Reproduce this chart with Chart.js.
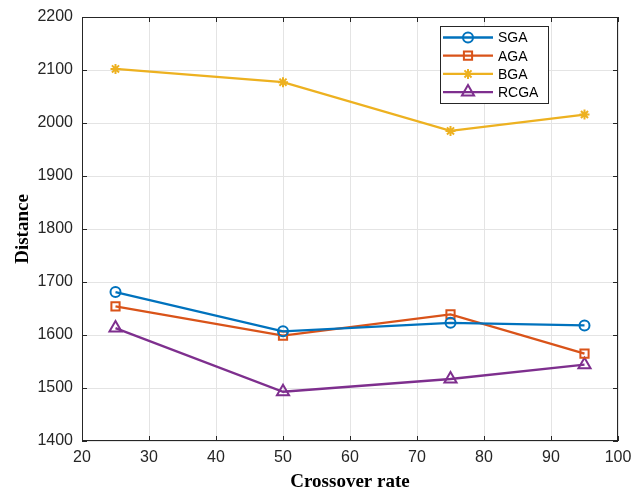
<!DOCTYPE html>
<html>
<head>
<meta charset="utf-8">
<script src="https://cdn.jsdelivr.net/npm/chart.js@4/dist/chart.umd.min.js"></script>
<style>
  html, body { margin: 0; padding: 0; background: #fff; }
  #wrap { width: 642px; height: 493px; }
</style>
</head>
<body>
<div id="wrap"><canvas id="chart" width="642" height="493"></canvas></div>
<script>
// data
const crossoverRates = [25, 50, 75, 95];
const sga  = [1681, 1607, 1623, 1618];
const aga  = [1654, 1599, 1639, 1565];
const bga  = [2102, 2077, 1985, 2016];
const rcga = [1613, 1493, 1517, 1544];

const seriesNames = ['SGA', 'AGA', 'BGA', 'RCGA'];
const seriesColors = ['#0072BD', '#D95319', '#EDB120', '#7E2F8E'];
const seriesMarkers = ['circle', 'rect', 'star', 'triangle'];
const markerSizes = [5, 5.8, 5, 7];

const xMin = 20, xMax = 100, xStep = 10;
const yMin = 1400, yMax = 2200, yStep = 100;

const allSeries = [sga, aga, bga, rcga];

const datasets = allSeries.map((vals, i) => ({
    label: seriesNames[i],
    data: crossoverRates.map((x, j) => ({ x: x, y: vals[j] })),
    borderColor: seriesColors[i],
    backgroundColor: seriesColors[i],
    borderWidth: 2.3,
    pointStyle: seriesMarkers[i],
    pointRadius: markerSizes[i],
    pointBorderWidth: 2,
    pointBackgroundColor: 'rgba(0,0,0,0)',
    pointBorderColor: seriesColors[i],
    tension: 0
}));

// box around the plot, inward ticks on all four sides (MATLAB look)
const framePlugin = {
    id: 'frame',
    afterDatasetsDraw(chart) {
        const { ctx, chartArea: a, scales } = chart;
        ctx.save();
        ctx.strokeStyle = '#262626';
        ctx.lineWidth = 1;
        ctx.strokeRect(a.left + 0.5, a.top + 0.5, a.right - a.left - 1, a.bottom - a.top - 1);
        const tl = 5;
        ctx.beginPath();
        scales.x.ticks.forEach(t => {
            const px = Math.round(scales.x.getPixelForValue(t.value)) + 0.5;
            ctx.moveTo(px, a.bottom); ctx.lineTo(px, a.bottom - tl);
            ctx.moveTo(px, a.top); ctx.lineTo(px, a.top + tl);
        });
        scales.y.ticks.forEach(t => {
            const py = Math.round(scales.y.getPixelForValue(t.value)) + 0.5;
            ctx.moveTo(a.left, py); ctx.lineTo(a.left + tl, py);
            ctx.moveTo(a.right, py); ctx.lineTo(a.right - tl, py);
        });
        ctx.stroke();
        ctx.restore();
    },
    afterDraw(chart) {
        // legend box in the upper right of the plot
        const { ctx } = chart;
        const bx = 440.5, by = 26.5, bw = 108, bh = 77;
        ctx.save();
        ctx.fillStyle = '#fff';
        ctx.fillRect(bx, by, bw, bh);
        ctx.strokeStyle = '#262626';
        ctx.lineWidth = 1;
        ctx.strokeRect(bx, by, bw, bh);
        ctx.font = '14px "Liberation Sans", Arial, sans-serif';
        ctx.textBaseline = 'middle';
        seriesNames.forEach((name, i) => {
            const y = by + 11 + i * 18.2;
            ctx.strokeStyle = seriesColors[i];
            ctx.lineWidth = 2.3;
            ctx.beginPath();
            ctx.moveTo(443, y); ctx.lineTo(493, y);
            ctx.stroke();
            ctx.fillStyle = 'rgba(0,0,0,0)';
            ctx.lineWidth = 2;
            Chart.helpers.drawPoint(ctx, {
                pointStyle: seriesMarkers[i],
                radius: markerSizes[i],
                borderWidth: 2,
                rotation: 0
            }, 468, y);
            ctx.fillStyle = '#000';
            ctx.fillText(name, 498, y + 1);
        });
        ctx.restore();
    }
};

new Chart(document.getElementById('chart'), {
    type: 'line',
    data: { datasets: datasets },
    plugins: [framePlugin],
    options: {
        responsive: false,
        animation: false,
        layout: { padding: { left: 0, top: 17, right: 24, bottom: 0 } },
        plugins: {
            legend: { display: false },
            tooltip: { enabled: false }
        },
        scales: {
            x: {
                type: 'linear',
                min: xMin, max: xMax,
                afterFit: s => { s.height = 52; s.paddingLeft = 0; s.paddingRight = 0; },
                ticks: {
                    stepSize: xStep,
                    padding: 7,
                    color: '#262626',
                    font: { family: '"Liberation Sans", Arial, sans-serif', size: 16 },
                    maxRotation: 0,
                    callback: v => String(v)
                },
                grid: { color: '#e4e4e4', drawTicks: false },
                border: { display: false },
                title: {
                    display: true,
                    text: 'Crossover rate',
                    color: '#000',
                    font: { family: '"Liberation Serif", "Times New Roman", serif', size: 19, weight: 'bold' },
                    padding: { top: 2, bottom: 0 }
                }
            },
            y: {
                min: yMin, max: yMax,
                afterFit: s => { s.width = 82; s.paddingTop = 0; s.paddingBottom = 0; },
                ticks: {
                    stepSize: yStep,
                    padding: 9,
                    color: '#262626',
                    font: { family: '"Liberation Sans", Arial, sans-serif', size: 16 },
                    callback: v => String(v)
                },
                grid: { color: '#e4e4e4', drawTicks: false },
                border: { display: false },
                title: {
                    display: true,
                    text: 'Distance',
                    color: '#000',
                    font: { family: '"Liberation Serif", "Times New Roman", serif', size: 19, weight: 'bold' },
                    padding: { top: 12, bottom: 0 }
                }
            }
        }
    }
});
</script>
</body>
</html>
